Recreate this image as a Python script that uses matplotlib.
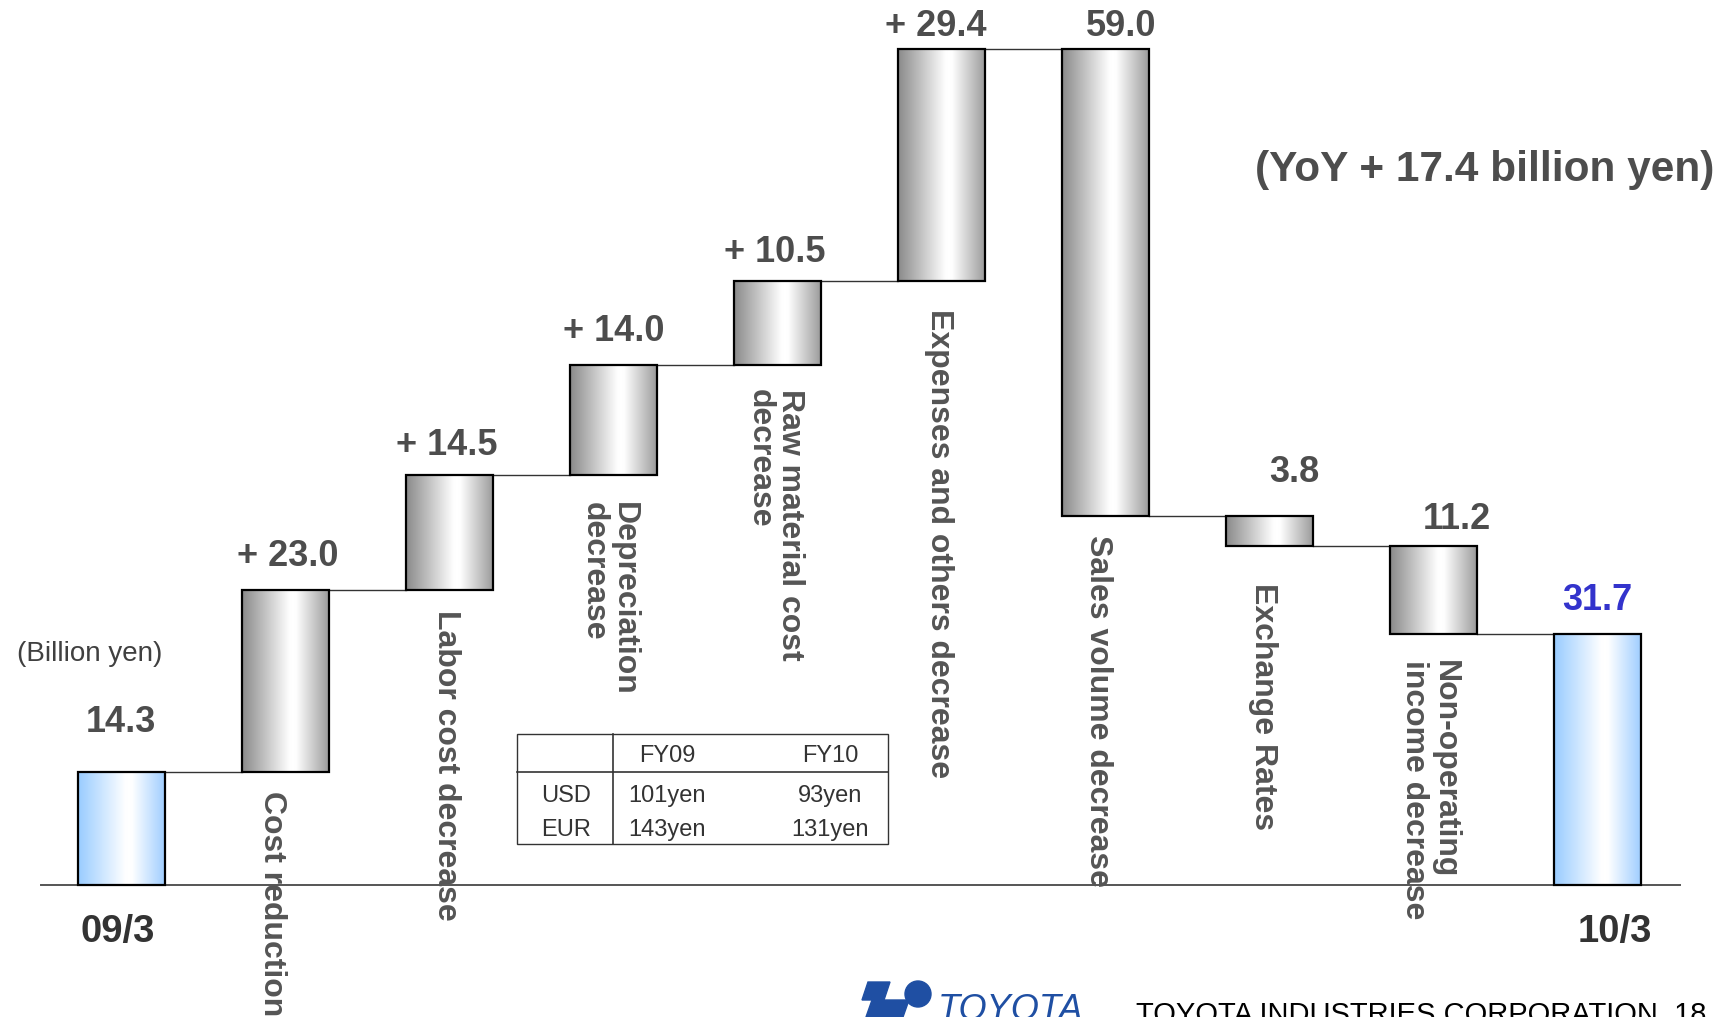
import matplotlib
matplotlib.use("Agg")
import matplotlib.pyplot as plt
import numpy as np
from matplotlib.colors import LinearSegmentedColormap
from matplotlib.patches import Rectangle, Polygon, Circle

# ---- data -----------------------------------------------------------------
categories = ["09/3", "Cost reduction", "Labor cost decrease",
              "Depreciation\ndecrease", "Raw material cost\ndecrease",
              "Expenses and others decrease", "Sales volume decrease",
              "Exchange Rates", "Non-operating\nincome decrease", "10/3"]
values = [14.3, 23.0, 14.5, 14.0, 10.5, 29.4, -59.0, -3.8, -11.2, 31.7]
is_total = [True, False, False, False, False, False, False, False, False, True]

fx_header = ["", "FY09", "FY10"]
fx_rows = [["USD", "101yen", "93yen"],
           ["EUR", "143yen", "131yen"]]

unit_label = "(Billion yen)"
yoy_label = "(YoY + 17.4 billion yen)"
footer = "TOYOTA INDUSTRIES CORPORATION  18"

# ---- layout helpers ---------------------------------------------------------
W, H = 1733, 1017
FONT = "Liberation Sans"
GREY_TXT = "#4d4d4d"


def fig_xy(px, py):
    """pixel (from top-left) -> figure fraction"""
    return px / W, 1 - py / H


# running bottoms / tops
bottoms, heights, levels = [], [], []
cum = 0.0
for v, tot in zip(values, is_total):
    if tot:
        bottoms.append(0.0)
        heights.append(v)
        cum = v
    else:
        bottoms.append(cum)
        heights.append(v)
        cum += v
    levels.append(cum)

fig = plt.figure(figsize=(W / 100, H / 100), dpi=100)
ax = fig.add_axes([0, 0, 1, 1])
ax.set_axis_off()

x = np.arange(len(values))
bars = ax.bar(x, heights, bottom=bottoms, width=0.527, facecolor="none",
              edgecolor="black", linewidth=1.6, zorder=3)

grey_cmap = LinearSegmentedColormap.from_list(
    "g", [(0, "#8a8a8a"), (0.55, "#ffffff"), (0.62, "#ffffff"), (1, "#9c9c9c")])
blue_cmap = LinearSegmentedColormap.from_list(
    "b", [(0, "#99ccff"), (0.55, "#ffffff"), (0.62, "#ffffff"), (1, "#a0ceff")])
grad = np.linspace(0, 1, 256)[np.newaxis, :]
for b, tot in zip(bars, is_total):
    x0, w = b.get_x(), b.get_width()
    y0, h = b.get_y(), b.get_height()
    ax.imshow(grad, extent=(x0, x0 + w, min(y0, y0 + h), max(y0, y0 + h)),
              cmap=blue_cmap if tot else grey_cmap, aspect="auto",
              interpolation="bicubic", zorder=2)

# connectors
for i in range(len(values) - 1):
    r = bars[i].get_x() + bars[i].get_width()
    l = bars[i + 1].get_x()
    ax.plot([r, l], [levels[i], levels[i]], color="#333333", lw=1.0, zorder=1)

# baseline
ax.plot([-0.491, 9.503], [0, 0], color="#555555", lw=1.4, zorder=1)

ax.set_xlim(-121.5 / 164, (W - 121.5) / 164)
ax.set_ylim(-(H - 885) / 7.91, 885 / 7.91)

# value labels: offsets in pixels of the label centre from the bar top
value_dx = [-1, 2, -3, 0, -3, -6, 16, 25, 23, 0]
value_dy = [49, 33, 30, 33, 29, 22, 22, 43, 26, 34]
for i, (v, tot) in enumerate(zip(values, is_total)):
    top = max(bottoms[i], bottoms[i] + heights[i])
    if tot:
        txt = f"{v:.1f}"
    elif v > 0:
        txt = f"+ {v:.1f}"
    else:
        txt = f"{abs(v):.1f}"
    color = "#3333cc" if i == len(values) - 1 else GREY_TXT
    ax.annotate(txt, (x[i], top),
                xytext=(value_dx[i] * 0.72, value_dy[i] * 0.72),
                textcoords="offset points", ha="center", va="center",
                fontsize=26, fontweight="bold", family=FONT, color=color)

# category labels (rotated)
cat_dx = [0, -14, -4, -5, -3, -3, -8, -6, -4, 0]
cat_gap = [0, 19, 20, 27, 24, 28, 19, 37, 26, 0]
for i in range(1, len(values) - 1):
    low = min(bottoms[i], bottoms[i] + heights[i])
    ax.annotate(categories[i], (x[i], low),
                xytext=(cat_dx[i] * 0.72, -cat_gap[i] * 0.72),
                textcoords="offset points", rotation=270, ha="center",
                va="top", multialignment="left", linespacing=1.0,
                fontsize=23, fontweight="bold", family=FONT, color="#555555")

for i in (0, len(values) - 1):
    dx = -4 if i == 0 else 17
    ax.annotate(categories[i], (x[i], 0), xytext=(dx * 0.72, -34),
                textcoords="offset points", ha="center", va="center",
                fontsize=27.5, fontweight="bold", family=FONT, color="#333333")

fig.text(*fig_xy(17, 654), unit_label, ha="left", va="center",
         fontsize=20, family=FONT, color="#404040")
fig.text(*fig_xy(1485, 170), yoy_label, ha="center", va="center",
         fontsize=30.5, fontweight="bold", family=FONT, color=GREY_TXT)

# ---- exchange-rate table ---------------------------------------------------
tl, tr, tt, tb = 517, 888, 734, 844
fig.add_artist(Rectangle(fig_xy(tl, tb), (tr - tl) / W, (tb - tt) / H,
                         transform=fig.transFigure, fill=False,
                         edgecolor="#333333", lw=1.0))
fig.add_artist(plt.Line2D([fig_xy(613, 0)[0]] * 2,
                          [fig_xy(0, tt)[1], fig_xy(0, tb)[1]],
                          transform=fig.transFigure, color="#333333", lw=1.2))
fig.add_artist(plt.Line2D([fig_xy(tl, 0)[0], fig_xy(tr, 0)[0]],
                          [fig_xy(0, 772)[1]] * 2,
                          transform=fig.transFigure, color="#333333", lw=1.2))
col_x = [566, 667, 830]
for cx, t in zip(col_x, fx_header):
    fig.text(*fig_xy(cx, 756), t, ha="center", va="center", fontsize=17,
             family=FONT, color="#333333")
for ry, row in zip([796, 830], fx_rows):
    for cx, t in zip(col_x, row):
        fig.text(*fig_xy(cx, ry), t, ha="center", va="center", fontsize=17,
                 family=FONT, color="#333333")

# ---- footer logo and text --------------------------------------------------
blue = "#1f4fa3"
fig.add_artist(Polygon([fig_xy(*p) for p in
                        [(868, 982), (890, 982), (884, 1000), (862, 1000)]],
                       closed=True, transform=fig.transFigure, color=blue))
fig.add_artist(Polygon([fig_xy(*p) for p in
                        [(884, 1000), (909, 1000), (903, 1017), (878, 1017)]],
                       closed=True, transform=fig.transFigure, color=blue))
fig.add_artist(Polygon([fig_xy(*p) for p in
                        [(872, 1000), (884, 1000), (878, 1017), (866, 1017)]],
                       closed=True, transform=fig.transFigure, color=blue))
fig.add_artist(Circle((918, H - 994), 13, transform=None, color=blue))
fig.text(*fig_xy(938, 993), "TOYOTA", ha="left", va="top", fontsize=26,
         style="italic", family=FONT, color=blue)
fig.text(*fig_xy(1136, 1001), footer, ha="left", va="top", fontsize=21,
         family=FONT, color="black")

fig.savefig("out.png", dpi=100)
